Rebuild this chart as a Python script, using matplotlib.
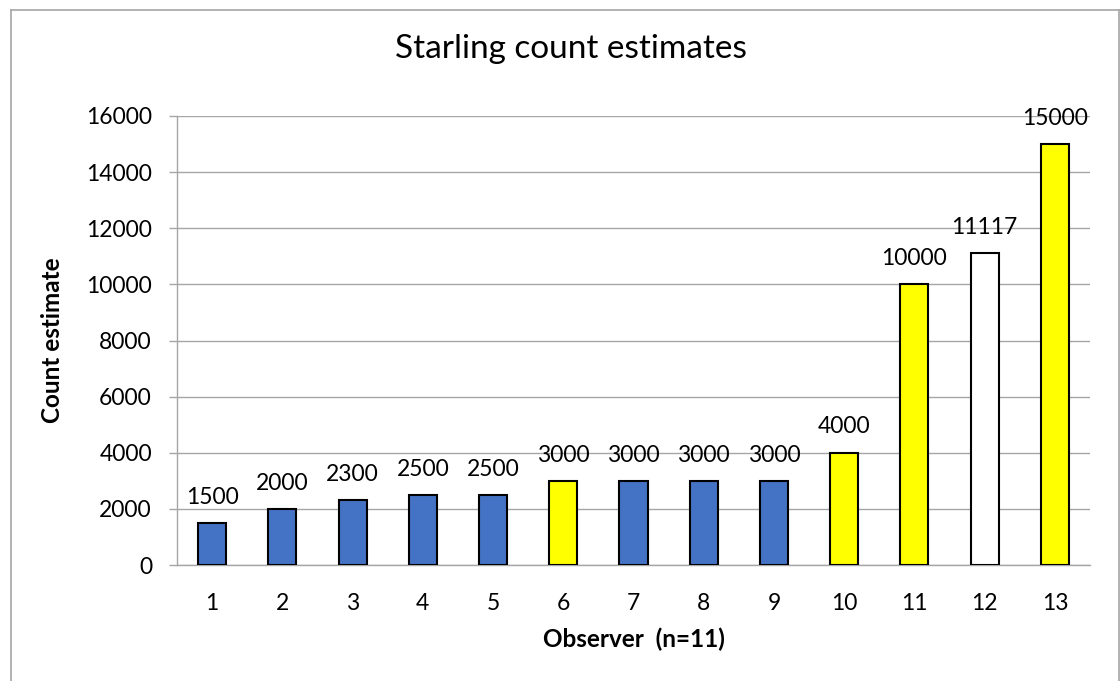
import matplotlib.pyplot as plt
from matplotlib.lines import Line2D

observers = [str(i) for i in range(1, 14)]
estimates = [1500, 2000, 2300, 2500, 2500, 3000, 3000, 3000, 3000, 4000, 10000, 11117, 15000]
bar_colors = ["#4472C4"] * 5 + ["#FFFF00"] + ["#4472C4"] * 3 + ["#FFFF00", "#FFFF00", "#FFFFFF", "#FFFF00"]
y_ticks = list(range(0, 16001, 2000))

plt.rcParams['font.family'] = ['Lato', 'DejaVu Sans']

fig = plt.figure(figsize=(11.2, 6.81), dpi=100)
ax = fig.add_axes([177 / 1120, 1 - 565 / 681, (1090 - 177) / 1120, (565 - 116) / 681])

x = list(range(1, 14))
bars = ax.bar(x, estimates, width=0.4, color=bar_colors, edgecolor="black", linewidth=1.5, zorder=3)

for xi, v in zip(x, estimates):
    ax.annotate(str(v), (xi, v), xytext=(0, 11), textcoords="offset points",
                ha="center", va="bottom", fontsize=16.5, color="black")

ax.set_xlim(0.5, 13.5)
ax.set_ylim(0, 16000)
ax.set_xticks(x)
ax.set_xticklabels(observers)
ax.set_yticks(y_ticks)
ax.tick_params(axis="x", length=0, pad=20, labelsize=16.5)
ax.tick_params(axis="y", length=6, width=1, color="#A6A6A6", pad=12, labelsize=16.5)
ax.grid(axis="y", color="#A6A6A6", linewidth=1, zorder=0)
for s in ["top", "right"]:
    ax.spines[s].set_visible(False)
for s in ["left", "bottom"]:
    ax.spines[s].set_color("#A6A6A6")
    ax.spines[s].set_linewidth(1)

ax.set_xlabel("Observer  (n=11)", fontsize=17.5, fontweight="bold", labelpad=10)
ax.set_ylabel("Count estimate", fontsize=17.5, fontweight="bold", labelpad=16)
fig.text(0.51, 1 - 49 / 681, "Starling count estimates", ha="center", va="center", fontsize=24)

# outer chart border
fx0, fx1, fy1 = 11 / 1120, 1119 / 1120, 1 - 10 / 681
for xs, ys in [([fx0, fx0], [0, fy1]), ([fx0, fx1], [fy1, fy1]), ([fx1, fx1], [fy1, 0])]:
    fig.add_artist(Line2D(xs, ys, transform=fig.transFigure, color="#A6A6A6", linewidth=1.2))

fig.savefig("out.png", dpi=100)
